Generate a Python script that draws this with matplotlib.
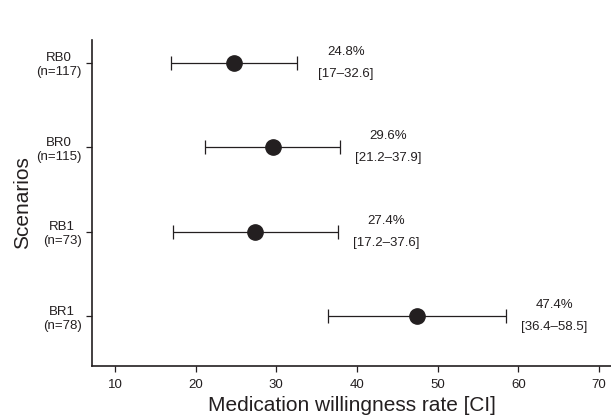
import matplotlib
matplotlib.use("Agg")
import matplotlib.pyplot as plt

plt.rcParams['font.family'] = ['Liberation Sans', 'DejaVu Sans']

scenarios = ['RB0\n(n=117)', 'BR0\n(n=115)', 'RB1\n(n=73)', 'BR1\n(n=78)']
rates = [24.8, 29.6, 27.4, 47.4]
ci_low = [17, 21.2, 17.2, 36.4]
ci_high = [32.6, 37.9, 37.6, 58.5]
ci_text = ['[17\u201332.6]', '[21.2\u201337.9]', '[17.2\u201337.6]', '[36.4\u201358.5]']

ypos = [4, 3, 2, 1]
col = '#231f20'

fig = plt.figure(figsize=(6.11, 4.16), dpi=100)
ax = fig.add_axes([0.1506, 0.120, 0.8494, 0.784])

err = [[r - l for r, l in zip(rates, ci_low)], [h - r for r, h in zip(rates, ci_high)]]
ax.errorbar(rates, ypos, xerr=err, fmt='o', color=col, ecolor=col, elinewidth=0.9,
            capsize=5, capthick=0.9, markersize=11)

for r, h, y, t in zip(rates, ci_high, ypos, ci_text):
    ax.text(h + 6, y + 0.13, '%.1f%%' % r, ha='center', va='center', fontsize=9.5, color=col)
    ax.text(h + 6, y - 0.13, t, ha='center', va='center', fontsize=9.5, color=col)

ax.set_xlim(7.15, 71.5)
ax.set_ylim(0.41, 4.27)
ax.set_xticks([10, 20, 30, 40, 50, 60, 70])
ax.set_yticks(ypos)
ax.set_yticklabels(scenarios, multialignment='center')
ax.tick_params(labelsize=9.5, colors=col, length=4, width=0.9)
ax.tick_params(axis='x', pad=5)
ax.spines['top'].set_visible(False)
ax.spines['right'].set_visible(False)
for s in ['left', 'bottom']:
    ax.spines[s].set_linewidth(1.2)
    ax.spines[s].set_color(col)
ax.set_xlabel('Medication willingness rate [CI]', fontsize=15, color=col, labelpad=4)
ax.set_ylabel('Scenarios', fontsize=15, color=col, labelpad=3)

fig.savefig('out.png', dpi=100)
